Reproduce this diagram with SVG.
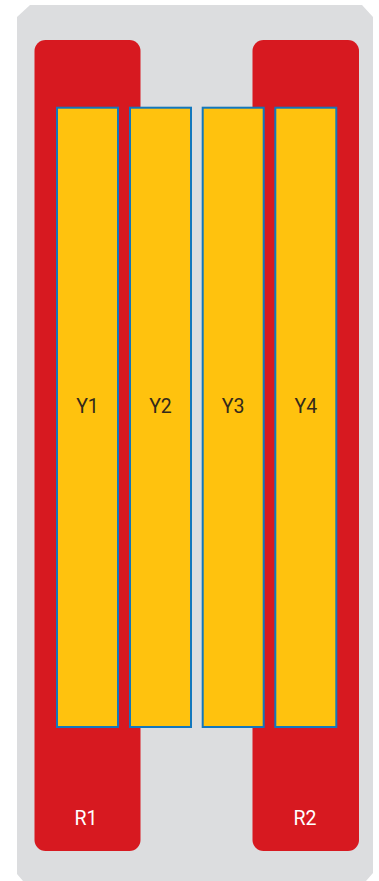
<svg xmlns="http://www.w3.org/2000/svg" width="379" height="881" viewBox="0 0 379 881">
<style>
.red{fill:#d71920}
.yel{fill:#ffc20e;stroke:#1277bd;stroke-width:2}
.lbl{font-family:Roboto,"Liberation Sans",Arial,sans-serif;font-size:19.5px;text-anchor:middle;dominant-baseline:central}
.dark{fill:#33291b}
.white{fill:#ffffff}
</style>
<polygon points="30,5 362,5 373,17 373,873 366,881 23,881 17,874 17,17" fill="#dcdddf"/>
<g id="R1"><rect class="red" x="34.5" y="40" width="106" height="811" rx="11"/><text class="lbl white" x="86" y="818.5">R1</text></g>
<g id="R2"><rect class="red" x="252.5" y="40" width="106.5" height="811" rx="11"/><text class="lbl white" x="305" y="818.5">R2</text></g>
<g id="Y1"><rect class="yel" x="57" y="107.7" width="61" height="619.3"/><text class="lbl dark" x="87.5" y="406.5">Y1</text></g>
<g id="Y2"><rect class="yel" x="130" y="107.7" width="61" height="619.3"/><text class="lbl dark" x="160.5" y="406.5">Y2</text></g>
<g id="Y3"><rect class="yel" x="202.7" y="107.7" width="61" height="619.3"/><text class="lbl dark" x="233.2" y="406.5">Y3</text></g>
<g id="Y4"><rect class="yel" x="275.3" y="107.7" width="61" height="619.3"/><text class="lbl dark" x="305.8" y="406.5">Y4</text></g>
<g id="connectors"></g>
</svg>
